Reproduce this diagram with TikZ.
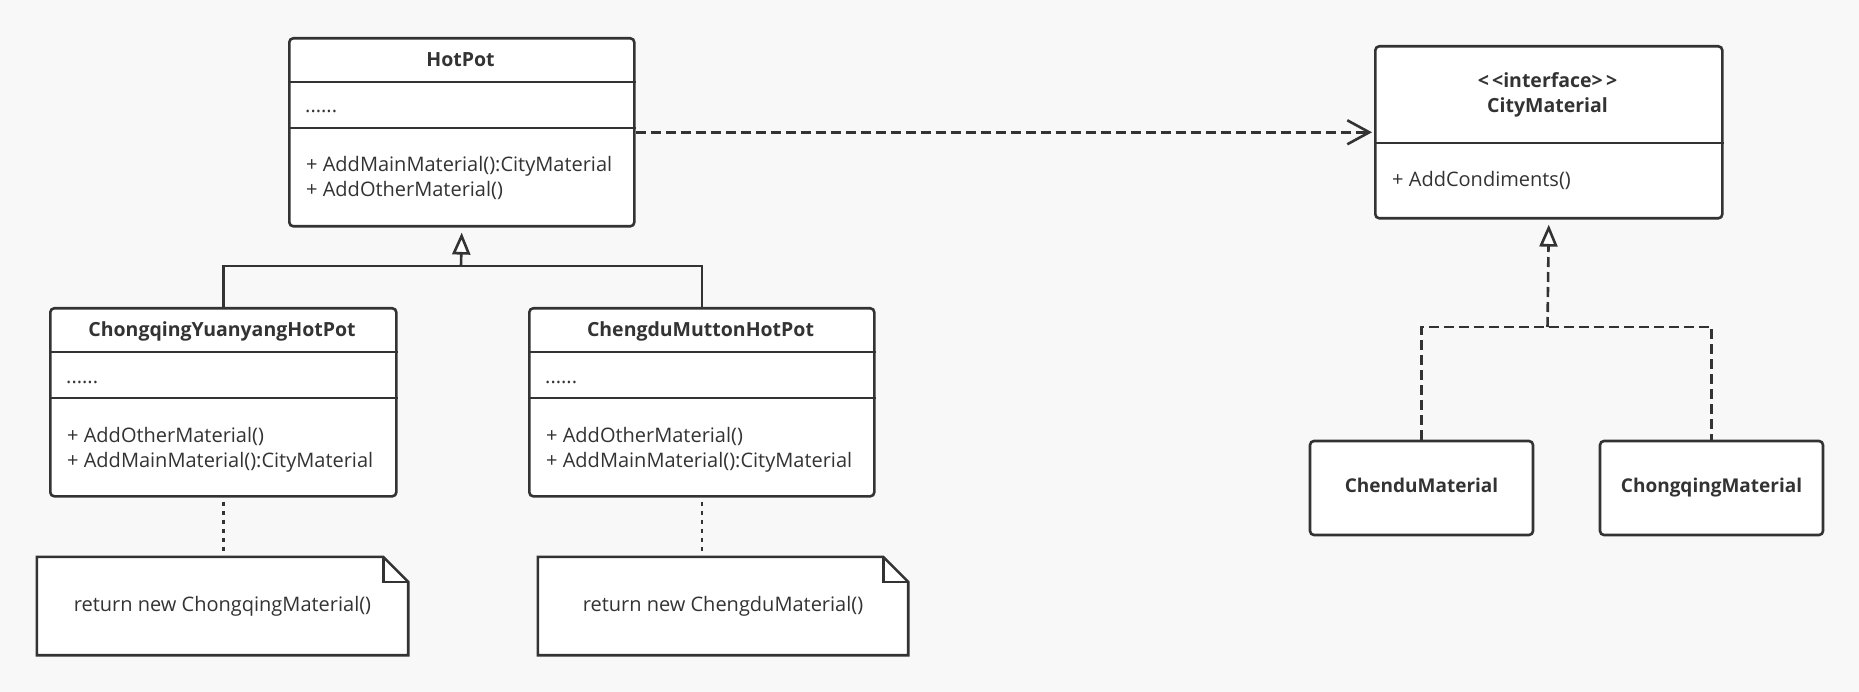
\documentclass[tikz,border=0pt]{standalone}
\usepackage{fontspec}
\setmainfont{Open Sans}
\usetikzlibrary{arrows.meta}
\definecolor{bg}{HTML}{F8F8F8}
\definecolor{ln}{HTML}{333333}
\begin{document}
\begin{tikzpicture}[x=1pt,y=-1pt,
  box/.style={draw=ln, line width=2.6pt, fill=white, rounded corners=4pt, inner sep=0pt, anchor=north west},
  sep/.style={draw=ln, line width=2.6pt},
  txt/.style={font=\fontsize{20}{24}\selectfont, text=ln, inner sep=0pt, anchor=base west},
  ttl/.style={font=\bfseries\fontsize{19.5}{24}\selectfont, text=ln, inner sep=0pt, anchor=base},
  conn/.style={draw=ln, line width=2.6pt},
  dep/.style={conn, dash pattern=on 10pt off 5pt, -{Straight Barb[length=22pt, width=24pt, line width=2.6pt]}, shorten >=2pt},
  real/.style={conn, dash pattern=on 10pt off 5pt},
  noteline/.style={conn, dash pattern=on 4pt off 5pt},
  inh/.style={-{Triangle[open, length=22pt, width=18pt, fill=white, line width=2.6pt]}, shorten >=5pt},
  notebox/.style={minimum width=#1, minimum height=98pt, inner sep=0pt, font=\fontsize{20}{24}\selectfont, text=ln},
  noteshape/.style={draw=ln, fill=white, line width=2.6pt, line join=miter},
  matbox/.style={box, anchor=center, minimum width=223pt, minimum height=94pt, text height=14pt, text depth=5pt, font=\bfseries\fontsize{19}{24}\selectfont, text=ln}
]
\fill[bg] (0,0) rectangle (1859,692);
\useasboundingbox (0,0) rectangle (1859,692);

% HotPot
\node[box, minimum width=345pt, minimum height=188pt] (hp) at (288,37) {};
\draw[sep] (hp.west |- 0,82) -- (hp.east |- 0,82);
\draw[sep] (hp.west |- 0,128) -- (hp.east |- 0,128);
\node[ttl] (hpt) at (460.5,67) {HotPot};
\node[txt] (hpd) at (305,113) {......};
\node[txt] (hpm1) at (306,172) {+ AddMainMaterial():CityMaterial};
\node[txt] (hpm2) at (306,197) {+ AddOtherMaterial()};

% ChongqingYuanyangHotPot
\node[box, minimum width=346pt, minimum height=188pt] (cy) at (49,307) {};
\draw[sep] (cy.west |- 0,352) -- (cy.east |- 0,352);
\draw[sep] (cy.west |- 0,398) -- (cy.east |- 0,398);
\node[ttl] (cyt) at (222,337) {ChongqingYuanyangHotPot};
\node[txt] (cyd) at (66,383) {......};
\node[txt] (cym1) at (67,442) {+ AddOtherMaterial()};
\node[txt] (cym2) at (67,467) {+ AddMainMaterial():CityMaterial};

% ChengduMuttonHotPot
\node[box, minimum width=345pt, minimum height=188pt] (cd) at (528,307) {};
\draw[sep] (cd.west |- 0,352) -- (cd.east |- 0,352);
\draw[sep] (cd.west |- 0,398) -- (cd.east |- 0,398);
\node[ttl] (cdt) at (700.5,337) {ChengduMuttonHotPot};
\node[txt] (cdd) at (545,383) {......};
\node[txt] (cdm1) at (546,442) {+ AddOtherMaterial()};
\node[txt] (cdm2) at (546,467) {+ AddMainMaterial():CityMaterial};

% CityMaterial
\node[box, minimum width=347pt, minimum height=172pt] (cm) at (1374,45) {};
\draw[sep] (cm.west |- 0,143) -- (cm.east |- 0,143);
\node[ttl] (cms) at (1547.5,88) {<\,<interface>\,>};
\node[ttl] (cmt) at (1547.5,113) {CityMaterial};
\node[txt] (cmm) at (1392,187) {+ AddCondiments()};

% Materials
\node[matbox] (chm) at (1421.5,488) {ChenduMaterial};
\node[matbox] (cqm) at (1711.5,488) {ChongqingMaterial};

% Notes
\node[notebox=371pt] (n1) at (222.5,606) {};
\node[notebox=370pt] (n2) at (723,606) {};
\foreach \n in {n1,n2} {
  \draw[noteshape] (\n.north west) -- ([xshift=-25pt]\n.north east) -- ([yshift=-25pt]\n.north east) -- (\n.south east) -- (\n.south west) -- cycle;
  \draw[noteshape, fill=none] ([xshift=-25pt]\n.north east) -- ([xshift=-25pt,yshift=-25pt]\n.north east) -- ([yshift=-25pt]\n.north east);
}
\node[notebox=371pt] (n1t) at (n1.center) {return new ChongqingMaterial()};
\node[notebox=370pt] (n2t) at (n2.center) {return new ChengduMaterial()};

% Connectors
\coordinate (j1) at (461,266);
\draw[conn] (cy.north) |- (j1) -| (cd.north);
\draw[conn, inh] (j1) -- (hp.south);
\draw[dep] (hp.east) -- (cm.west);
\coordinate (j2) at (1547.5,327);
\draw[real] (chm.north) |- (j2) -| (cqm.north);
\draw[real, inh] (j2) -- (cm.south);
\draw[noteline, shorten <=4pt] (cy.south) -- (n1.north -| cy.south);
\draw[noteline, shorten <=4pt] (cd.south) -- (n2.north -| cd.south);
\end{tikzpicture}
\end{document}
